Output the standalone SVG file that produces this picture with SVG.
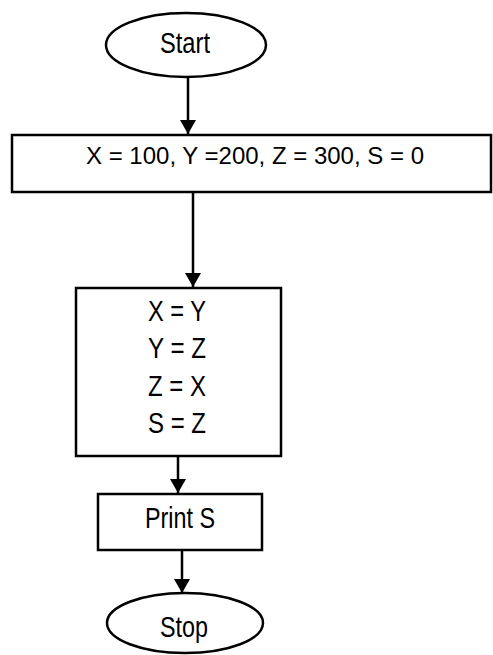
<svg xmlns="http://www.w3.org/2000/svg" width="493" height="655" viewBox="0 0 493 655">
<style>
.shape{fill:#fff;stroke:#000;stroke-width:2.5}
.conn{stroke:#000;stroke-width:2.5;fill:none}
.t{font-family:"Liberation Sans",Arial,sans-serif;font-size:30px;fill:#000;text-anchor:middle}
.t.s{font-size:24px}
</style>
<defs>
<marker id="arr" viewBox="0 0 14 16" refX="14" refY="8" markerWidth="14" markerHeight="16" markerUnits="userSpaceOnUse" orient="auto">
<path d="M0,0 L14,8 L0,16 z" fill="#000"/>
</marker>
</defs>
<rect width="493" height="655" fill="#fff"/>
<g id="connectors">
<line class="conn" x1="188" y1="77" x2="188" y2="134" marker-end="url(#arr)"/>
<line class="conn" x1="193" y1="192" x2="193" y2="287" marker-end="url(#arr)"/>
<line class="conn" x1="178" y1="456" x2="178" y2="493" marker-end="url(#arr)"/>
<line class="conn" x1="182" y1="550" x2="182" y2="593" marker-end="url(#arr)"/>
</g>
<g id="start">
<ellipse class="shape" cx="186" cy="45" rx="80" ry="32"/>
<text class="t" x="185" y="53" textLength="50" lengthAdjust="spacingAndGlyphs">Start</text>
</g>
<g id="init">
<rect class="shape" x="12" y="135" width="479" height="57"/>
<text class="t s" x="255" y="164" textLength="338" lengthAdjust="spacingAndGlyphs">X = 100, Y =200, Z = 300, S = 0</text>
</g>
<g id="assign">
<rect class="shape" x="76" y="288" width="205" height="168"/>
<text class="t" x="177" y="321" textLength="58" lengthAdjust="spacingAndGlyphs">X = Y</text>
<text class="t" x="177" y="358" textLength="58" lengthAdjust="spacingAndGlyphs">Y = Z</text>
<text class="t" x="177" y="396" textLength="58" lengthAdjust="spacingAndGlyphs">Z = X</text>
<text class="t" x="177" y="433" textLength="58" lengthAdjust="spacingAndGlyphs">S = Z</text>
</g>
<g id="print">
<rect class="shape" x="98" y="494" width="164" height="56"/>
<text class="t" x="180" y="528" textLength="70" lengthAdjust="spacingAndGlyphs">Print S</text>
</g>
<g id="stop">
<ellipse class="shape" cx="185" cy="623" rx="78" ry="30"/>
<text class="t" x="184" y="637" textLength="48" lengthAdjust="spacingAndGlyphs">Stop</text>
</g>
</svg>
